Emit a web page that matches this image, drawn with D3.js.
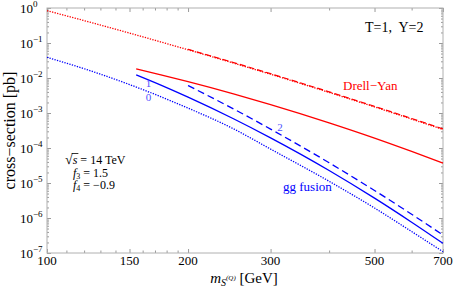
<!DOCTYPE html>
<html>
<head>
<meta charset="utf-8">
<script src="https://cdn.jsdelivr.net/npm/d3@7"></script>
<style>
  body { margin: 0; background: #fff; }
  text { font-family: "Liberation Serif", "Times New Roman", serif; }
</style>
</head>
<body>
<div id="chart"></div>
<script>
// masses (GeV) the curves are read at
const massFull = [100, 125, 150, 200, 250, 300, 400, 500, 600, 700];
const massFrom155 = [155, 175, 200, 250, 300, 400, 500, 600, 700];
const massFrom200 = [200, 250, 300, 400, 500, 600, 700];

// Drell-Yan cross-sections (pb), curves 0 / 1 / 2
const dy0 = [0.84, 0.376, 0.192, 0.064, 0.0267, 0.0128, 3.87e-3, 1.49e-3, 6.7e-4, 3.38e-4];
const dy1 = [0.0182, 0.0123, 7.85e-3, 3.52e-3, 1.74e-3, 5.24e-4, 1.92e-4, 8.0e-5, 3.72e-5];
const dy2 = [0.066, 0.0277, 0.0133, 4.02e-3, 1.55e-3, 6.97e-4, 3.52e-4];

// gg fusion cross-sections (pb), curves 0 / 1 / 2
const gg0 = [0.039, 0.0154, 6.5e-3, 1.38e-3, 3.54e-4, 9.3e-5, 1.12e-5, 1.93e-6, 4.1e-7, 1.09e-7];
const gg1 = [0.0123, 6.27e-3, 2.84e-3, 6.86e-4, 1.95e-4, 2.28e-5, 3.7e-6, 7.6e-7, 1.89e-7];
const gg2 = [6.1e-3, 1.31e-3, 3.47e-4, 3.79e-5, 6.1e-6, 1.28e-6, 3.27e-7];

// axis ticks
const xTicks = [100, 110, 120, 130, 140, 150, 160, 170, 180, 190, 200, 300, 400, 500, 600, 700];
const xTickLabels = [100, 150, 200, 300, 500, 700];
const yTickExps = [0, -1, -2, -3, -4, -5, -6, -7];

const MARGIN = { LEFT: 47, RIGHT: 11, TOP: 8, BOTTOM: 37 }
const WIDTH = 454 - MARGIN.LEFT - MARGIN.RIGHT
const HEIGHT = 290 - MARGIN.TOP - MARGIN.BOTTOM

const RED = "#ff0000"
const BLUE = "#0000ff"
const FRAME = "#b0b0b0"
const TICK = "#808080"

const svg = d3.select("#chart").append("svg")
  .attr("width", WIDTH + MARGIN.LEFT + MARGIN.RIGHT)
  .attr("height", HEIGHT + MARGIN.TOP + MARGIN.BOTTOM);

const g = svg.append("g")
  .attr("transform", `translate(${MARGIN.LEFT}, ${MARGIN.TOP})`);

const x = d3.scaleLog()
  .domain([100, 700])
  .range([0, WIDTH]);

const y = d3.scaleLog()
  .domain([1e-7, 1])
  .range([HEIGHT, 0]);

// minor ticks on y: 2..9 in every decade
const yMajor = yTickExps.map(e => Math.pow(10, e));
const yMinor = [];
yTickExps.slice(1).forEach(e => {
  for (let k = 2; k <= 9; k++) yMinor.push(k * Math.pow(10, e));
});
const xMajor = xTickLabels;
const xMinor = xTicks.filter(t => !xTickLabels.includes(t));

function tickAxis(axis, values, size) {
  return sel => {
    sel.call(axis.tickValues(values).tickSize(-size).tickFormat(""));
    sel.select(".domain").remove();
    sel.selectAll("line").attr("stroke", TICK).attr("stroke-width", 0.8);
  };
}

// ticks on all four sides, pointing inwards
g.append("g").attr("transform", `translate(0, ${HEIGHT})`).call(tickAxis(d3.axisBottom(x), xMajor, 4));
g.append("g").attr("transform", `translate(0, ${HEIGHT})`).call(tickAxis(d3.axisBottom(x), xMinor, 2.5));
g.append("g").call(tickAxis(d3.axisTop(x), xMajor, 4));
g.append("g").call(tickAxis(d3.axisTop(x), xMinor, 2.5));
g.append("g").call(tickAxis(d3.axisLeft(y), yMajor, 4));
g.append("g").call(tickAxis(d3.axisLeft(y), yMinor, 2));
g.append("g").attr("transform", `translate(${WIDTH}, 0)`).call(tickAxis(d3.axisRight(y), yMajor, 4));
g.append("g").attr("transform", `translate(${WIDTH}, 0)`).call(tickAxis(d3.axisRight(y), yMinor, 2));

// frame
g.append("rect")
  .attr("width", WIDTH)
  .attr("height", HEIGHT)
  .attr("fill", "none")
  .attr("stroke", FRAME)
  .attr("stroke-width", 1);

// x tick labels
g.selectAll(".x-label")
  .data(xTickLabels)
  .enter().append("text")
  .attr("class", "x-label")
  .attr("x", d => x(d))
  .attr("y", HEIGHT + 12)
  .attr("text-anchor", "middle")
  .attr("font-size", "13px")
  .text(d => d);

// y tick labels 10^n
const yLab = g.selectAll(".y-label")
  .data(yTickExps)
  .enter().append("text")
  .attr("class", "y-label")
  .attr("x", -27)
  .attr("y", d => y(Math.pow(10, d)) + 4.5)
  .attr("font-size", "13px");
yLab.append("tspan").text("10");
yLab.append("tspan")
  .attr("font-size", "9px")
  .attr("dy", -5.5)
  .text(d => d < 0 ? "\u2212" + (-d) : d);

// curves
const line = d3.line()
  .x(d => x(d[0]))
  .y(d => y(d[1]))
  .curve(d3.curveMonotoneX);

const curves = [
  { m: massFull, v: dy0, color: RED, dash: "1.3,1.3", w: 1.3 },
  { m: massFrom200, v: dy2, color: RED, dash: "6,3", w: 1.2 },
  { m: massFrom155, v: dy1, color: RED, dash: null, w: 1.3 },
  { m: massFull, v: gg0, color: BLUE, dash: "1.3,1.3", w: 1.3 },
  { m: massFrom155, v: gg1, color: BLUE, dash: null, w: 1.3 },
  { m: massFrom200, v: gg2, color: BLUE, dash: "7,4", w: 1.3 }
];

g.selectAll(".curve")
  .data(curves)
  .enter().append("path")
  .attr("class", "curve")
  .attr("d", c => line(c.m.map((m, i) => [m, c.v[i]])))
  .attr("fill", "none")
  .attr("stroke", c => c.color)
  .attr("stroke-width", c => c.w)
  .attr("stroke-dasharray", c => c.dash);

// curve labels
const numLabels = [
  { t: "1", x: 148.5, y: 87 },
  { t: "0", x: 148.5, y: 101 },
  { t: "2", x: 280, y: 131 }
];
svg.selectAll(".num")
  .data(numLabels)
  .enter().append("text")
  .attr("class", "num")
  .attr("x", d => d.x)
  .attr("y", d => d.y)
  .attr("text-anchor", "middle")
  .attr("font-size", "11px")
  .attr("fill", "#5050ff")
  .text(d => d.t);

svg.append("text")
  .attr("x", 343).attr("y", 90)
  .attr("font-size", "13px")
  .attr("fill", RED)
  .text("Drell\u2212Yan");

svg.append("text")
  .attr("x", 283).attr("y", 191)
  .attr("font-size", "13px")
  .attr("fill", BLUE)
  .text("gg fusion");

svg.append("text")
  .attr("x", 365).attr("y", 32)
  .attr("font-size", "14px")
  .attr("xml:space", "preserve")
  .text("T=1,  Y=2");

// sqrt(s), f3, f4
const t1 = svg.append("text")
  .attr("x", 65).attr("y", 164)
  .attr("font-size", "12px");
const rad = t1.append("tspan").attr("font-size", "14px").text("\u221A");
const sT = t1.append("tspan").attr("font-style", "italic").text("s");
t1.append("tspan").attr("xml:space", "preserve").text(" = 14 TeV");
const radW = rad.node().getComputedTextLength();
const sW = sT.node().getComputedTextLength();
svg.append("line")
  .attr("x1", 65 + radW - 1).attr("x2", 65 + radW + sW + 1)
  .attr("y1", 153.5).attr("y2", 153.5)
  .attr("stroke", "#000").attr("stroke-width", 0.8);

const t2 = svg.append("text").attr("x", 73).attr("y", 176.5).attr("font-size", "12px");
t2.append("tspan").attr("font-style", "italic").text("f");
t2.append("tspan").attr("font-size", "8px").attr("dy", 2).text("3");
t2.append("tspan").attr("dy", -2).text(" = 1.5");

const t3 = svg.append("text").attr("x", 73).attr("y", 189).attr("font-size", "12px");
t3.append("tspan").attr("font-style", "italic").text("f");
t3.append("tspan").attr("font-size", "8px").attr("dy", 2).text("4");
t3.append("tspan").attr("dy", -2).text(" = \u22120.9");

// axis titles
svg.append("text")
  .attr("transform", "rotate(-90)")
  .attr("x", -(MARGIN.TOP + HEIGHT / 2))
  .attr("y", 15)
  .attr("text-anchor", "middle")
  .attr("font-size", "16px")
  .text("cross\u2212section [pb]");

const xt = svg.append("text")
  .attr("x", 244)
  .attr("y", 283)
  .attr("text-anchor", "middle")
  .attr("font-size", "15px");
xt.append("tspan").attr("font-style", "italic").text("m");
xt.append("tspan").attr("font-style", "italic").attr("font-size", "10px").attr("dy", 3).text("S");
xt.append("tspan").attr("font-style", "italic").attr("font-size", "7px").attr("dy", -6).text("(Q)");
xt.append("tspan").attr("dy", 3).attr("xml:space", "preserve").text(" [GeV]");
</script>
</body>
</html>
